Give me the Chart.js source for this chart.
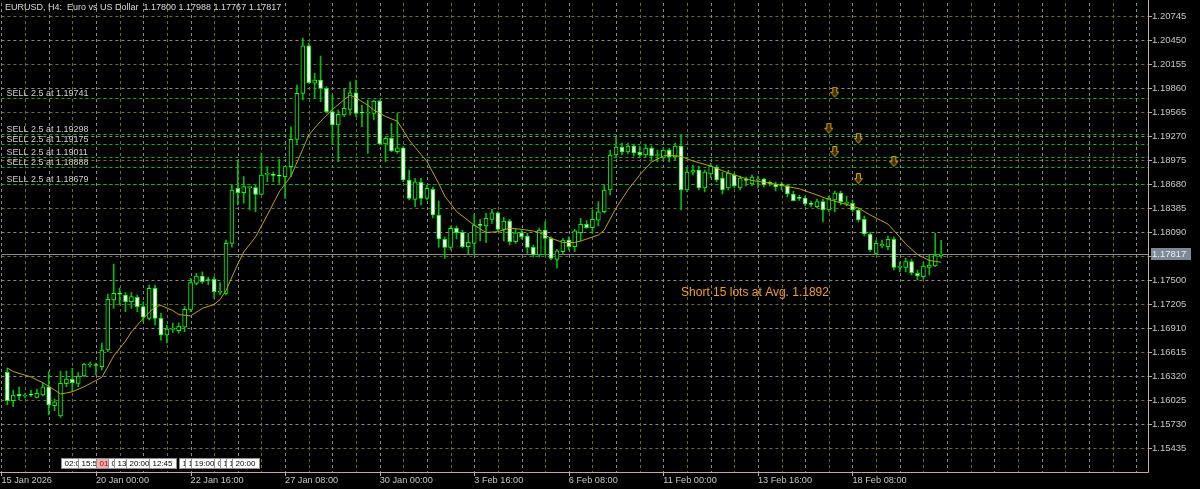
<!DOCTYPE html>
<html><head><meta charset="utf-8">
<script src="https://cdn.jsdelivr.net/npm/chart.js@4.4.1/dist/chart.umd.min.js"></script>
<style>html,body{margin:0;padding:0;background:#000;overflow:hidden}#wrap{width:1200px;height:489px;position:relative}</style>
</head><body><div id="wrap"><canvas id="c" width="1200" height="489"></canvas></div>
<script>
// ---- data (H4 candles, first candle sits at bar 1) ----
const opens=[1.16365,1.16016,1.16095,1.16074,1.16087,1.16058,1.16087,1.16188,1.15955,1.15828,1.16225,1.16279,1.16230,1.16320,1.16455,1.16455,1.16434,1.16640,1.17254,1.17328,1.17316,1.17233,1.17287,1.17172,1.17029,1.17398,1.17029,1.16824,1.16894,1.16877,1.16919,1.17131,1.17459,1.17549,1.17500,1.17509,1.17348,1.17336,1.17951,1.18627,1.18573,1.18635,1.18635,1.18553,1.18799,1.18791,1.18778,1.18770,1.18893,1.19229,1.19795,1.20377,1.19919,1.19959,1.19856,1.19569,1.19406,1.19528,1.19598,1.19802,1.19556,1.19553,1.19549,1.19700,1.19172,1.19242,1.19077,1.19126,1.18729,1.18491,1.18701,1.18504,1.18615,1.18299,1.18000,1.17901,1.18135,1.18086,1.17909,1.17951,1.18176,1.18164,1.18246,1.18327,1.18123,1.18225,1.17971,1.18081,1.18041,1.17901,1.17807,1.18114,1.18012,1.17754,1.17848,1.17992,1.17909,1.18081,1.18184,1.18143,1.18237,1.18339,1.18606,1.19037,1.19135,1.19074,1.19147,1.19074,1.19037,1.19123,1.19031,1.19000,1.19098,1.19012,1.19147,1.18606,1.18827,1.18852,1.18631,1.18803,1.18889,1.18754,1.18631,1.18791,1.18631,1.18729,1.18680,1.18729,1.18741,1.18692,1.18680,1.18668,1.18660,1.18557,1.18508,1.18508,1.18434,1.18401,1.18463,1.18360,1.18483,1.18569,1.18442,1.18442,1.18360,1.18246,1.18065,1.17828,1.17918,1.17909,1.18000,1.17656,1.17656,1.17725,1.17582,1.17541,1.17656,1.17672,1.17800];
const highs=[1.16418,1.16148,1.16185,1.16111,1.16148,1.16160,1.16238,1.16373,1.16037,1.16381,1.16381,1.16415,1.16361,1.16476,1.16492,1.16480,1.16726,1.17328,1.17697,1.17402,1.17344,1.17344,1.17316,1.17233,1.17439,1.17439,1.17094,1.16947,1.16971,1.16971,1.17172,1.17521,1.17582,1.17602,1.17537,1.17541,1.17467,1.17992,1.18668,1.18975,1.18770,1.18647,1.18668,1.19061,1.18893,1.18831,1.18984,1.18901,1.19384,1.19897,1.20475,1.20413,1.20041,1.20253,1.19877,1.19774,1.19590,1.19856,1.19937,1.19959,1.19651,1.19713,1.19713,1.19713,1.19261,1.19426,1.19549,1.19139,1.18852,1.18750,1.18750,1.18668,1.18643,1.18471,1.18032,1.18164,1.18164,1.18114,1.18073,1.18311,1.18246,1.18320,1.18369,1.18339,1.18271,1.18246,1.18123,1.18114,1.18073,1.17930,1.18139,1.18216,1.18032,1.17877,1.18012,1.18032,1.18123,1.18258,1.18229,1.18360,1.18463,1.18668,1.19098,1.19258,1.19184,1.19184,1.19172,1.19147,1.19172,1.19147,1.19098,1.19123,1.19123,1.19184,1.19282,1.18877,1.18914,1.18901,1.18852,1.18938,1.18914,1.18827,1.18852,1.18815,1.18778,1.18766,1.18791,1.18778,1.18754,1.18717,1.18705,1.18705,1.18680,1.18594,1.18545,1.18532,1.18471,1.18496,1.18496,1.18532,1.18594,1.18594,1.18532,1.18483,1.18385,1.18287,1.18090,1.17992,1.17992,1.18041,1.18029,1.17721,1.17770,1.17758,1.17623,1.17721,1.17807,1.18073,1.17988];
const lows=[1.15964,1.15943,1.16025,1.16050,1.16066,1.16050,1.16074,1.15841,1.15893,1.15812,1.16188,1.16127,1.16188,1.16311,1.16430,1.16332,1.16394,1.16619,1.17152,1.17193,1.17110,1.17152,1.17110,1.16987,1.17008,1.16947,1.16762,1.16726,1.16857,1.16845,1.16864,1.17110,1.17439,1.17459,1.17439,1.17275,1.17316,1.17316,1.17905,1.18422,1.18446,1.18360,1.18339,1.18545,1.18708,1.18708,1.18688,1.18504,1.18770,1.19180,1.19713,1.19919,1.19733,1.19692,1.19553,1.19172,1.18954,1.19507,1.19528,1.19507,1.19384,1.19057,1.19467,1.19159,1.18954,1.19077,1.19057,1.18708,1.18483,1.18401,1.18422,1.18483,1.18262,1.17905,1.17766,1.17869,1.18004,1.17893,1.17819,1.17807,1.17979,1.17958,1.18197,1.18106,1.17979,1.17930,1.17951,1.18004,1.17828,1.17783,1.17783,1.17807,1.17746,1.17644,1.17828,1.17869,1.17848,1.17979,1.18135,1.18073,1.18164,1.18323,1.18545,1.19000,1.19037,1.19049,1.19025,1.19000,1.19012,1.18963,1.18951,1.18976,1.18951,1.18976,1.18360,1.18582,1.18791,1.18606,1.18582,1.18754,1.18705,1.18557,1.18606,1.18631,1.18606,1.18655,1.18655,1.18631,1.18643,1.18655,1.18594,1.18606,1.18520,1.18471,1.18477,1.18410,1.18397,1.18385,1.18213,1.18336,1.18336,1.18422,1.18410,1.18336,1.18213,1.18041,1.17850,1.17807,1.17893,1.17869,1.17623,1.17599,1.17599,1.17562,1.17500,1.17512,1.17562,1.17664,1.17767];
const closes=[1.16016,1.16087,1.16074,1.16087,1.16085,1.16107,1.16188,1.15964,1.16004,1.16230,1.16283,1.16238,1.16320,1.16467,1.16467,1.16449,1.16640,1.17263,1.17336,1.17325,1.17233,1.17295,1.17172,1.17042,1.17398,1.17029,1.16824,1.16898,1.16898,1.16935,1.17140,1.17467,1.17549,1.17480,1.17494,1.17356,1.17352,1.17951,1.18606,1.18573,1.18647,1.18637,1.18553,1.18791,1.18803,1.18787,1.18776,1.18893,1.19229,1.19795,1.20377,1.19925,1.19959,1.19856,1.19569,1.19406,1.19537,1.19610,1.19802,1.19549,1.19553,1.19554,1.19700,1.19172,1.19242,1.19086,1.19126,1.18729,1.18504,1.18708,1.18504,1.18627,1.18299,1.18004,1.17901,1.18135,1.18081,1.17909,1.17963,1.18176,1.18172,1.18259,1.18327,1.18123,1.18225,1.17971,1.18081,1.18032,1.17901,1.17807,1.18114,1.18012,1.17766,1.17860,1.17992,1.17909,1.18106,1.18184,1.18143,1.18246,1.18339,1.18606,1.19037,1.19135,1.19074,1.19147,1.19061,1.19037,1.19123,1.19025,1.19037,1.19098,1.19012,1.19147,1.18606,1.18827,1.18852,1.18631,1.18827,1.18901,1.18729,1.18606,1.18815,1.18655,1.18754,1.18725,1.18766,1.18741,1.18668,1.18688,1.18643,1.18664,1.18557,1.18475,1.18504,1.18434,1.18430,1.18463,1.18360,1.18508,1.18569,1.18463,1.18446,1.18360,1.18238,1.18065,1.17869,1.17951,1.17939,1.18000,1.17656,1.17660,1.17725,1.17590,1.17549,1.17672,1.17684,1.17800,1.17817];
// moving average (candle index, value)
const maIdx=[0,1,4,6,8,9,10,11,13,16,18,20,21,23,25,26,28,29,31,33,35,36,37,39,40,42,44,46,48,50,51,53,55,57,58,59,61,62,64,66,68,69,71,73,74,76,79,81,83,85,87,89,90,92,94,96,97,100,101,103,105,107,109,111,112,114,116,119,122,126,129,131,134,137,139,142,144,146,147,149,151,152,154,156,158];
const maVal=[1.16418,1.16375,1.16308,1.16238,1.16148,1.16099,1.16111,1.16127,1.16188,1.16304,1.16566,1.16750,1.16861,1.17029,1.17172,1.17187,1.17125,1.17076,1.17058,1.17152,1.17199,1.17260,1.17371,1.17697,1.17844,1.18029,1.18299,1.18582,1.18778,1.19110,1.19282,1.19451,1.19596,1.19717,1.19774,1.19737,1.19649,1.19590,1.19510,1.19452,1.19221,1.19129,1.18957,1.18686,1.18533,1.18342,1.18174,1.18084,1.18094,1.18137,1.18123,1.18102,1.18084,1.18013,1.17961,1.17961,1.17979,1.18053,1.18114,1.18385,1.18606,1.18791,1.18951,1.19024,1.19037,1.19018,1.18963,1.18901,1.18815,1.18723,1.18692,1.18662,1.18621,1.18545,1.18489,1.18428,1.18385,1.18299,1.18262,1.18188,1.18029,1.17943,1.17813,1.17740,1.17718];
const xTickIdx=[0,16,32,48,64,80,96,112,128,144];
const xTickText=['15 Jan 2026','20 Jan 00:00','22 Jan 16:00','27 Jan 08:00','30 Jan 00:00','3 Feb 16:00','6 Feb 08:00','11 Feb 00:00','13 Feb 16:00','18 Feb 08:00'];
const yTicks=[1.15435,1.15730,1.16025,1.16320,1.16615,1.16910,1.17205,1.17500,1.17795,1.18090,1.18385,1.18680,1.18975,1.19270,1.19565,1.19860,1.20155,1.20450,1.20745];
const sellPrices=[1.19741,1.19298,1.19175,1.19011,1.18888,1.18679];
const sellBars=[141,140,145,141,151,145];
const sellLots=[2.5,2.5,2.5,2.5,2.5,2.5];
const lastPrice=1.17817;
const headerText='EURUSD, H4:  Euro vs US Dollar  1.17800 1.17988 1.17767 1.17817';
const avgText='Short 15 lots at Avg. 1.1892';
const avgBar=115, avgLevel=1.17340;
const timeBoxBars=[10,13,16,18,19,21,25,30,31,32,36,37,38,39];
const timeBoxText=['02:00','15:55','01:00','04:00','13:00','20:00','12:45','11:00','11:00','19:00','07:00','10:00','11:00','20:00'];
const timeBoxHot=[false,false,true,false,false,false,false,false,false,false,false,false,false,false];
const totalBars=194, yMin=1.15140, yMax=1.20905;

const FONT='"Liberation Sans", Arial, sans-serif';
const bull=i=>closes[i]>=opens[i];

const arrow=document.createElement('canvas');arrow.width=9;arrow.height=22;
(function(){const g=arrow.getContext('2d');g.beginPath();g.moveTo(2.5,0.5);g.lineTo(6.5,0.5);g.lineTo(6.5,5.5);g.lineTo(8.5,5.5);g.lineTo(4.5,10.5);g.lineTo(0.5,5.5);g.lineTo(2.5,5.5);g.closePath();g.fillStyle='#3a2c00';g.fill();g.strokeStyle='#d9a300';g.lineWidth=1;g.stroke();})();

const decor={id:'decor',
 beforeDatasetsDraw(chart){
  const {ctx,chartArea:a,scales:{x,y}}=chart;
  ctx.save();ctx.lineWidth=1;
  const hl=(py,c,d)=>{ctx.strokeStyle=c;ctx.setLineDash(d);ctx.beginPath();ctx.moveTo(a.left,py);ctx.lineTo(a.right,py);ctx.stroke();};
  yTicks.forEach((v,k)=>{const py=Math.round(y.getPixelForValue(v))+0.5;hl(py,k%2===0?'#6f6f1e':'#8a8a8a',[3,3]);});
  for(let j=0;j<=totalBars;j+=4){const px=Math.round(x.getPixelForValue(j))+0.5;ctx.strokeStyle=(j/4)%2===0?'#8a8a8a':'#6f6f1e';ctx.setLineDash([3,3]);ctx.beginPath();ctx.moveTo(px,a.top);ctx.lineTo(px,a.bottom);ctx.stroke();}
  sellPrices.forEach(v=>hl(Math.round(y.getPixelForValue(v))+0.5,'#00c000',[3,3]));
  hl(Math.round(y.getPixelForValue(lastPrice))+0.5,'#8c8c8c',[]);
  ctx.restore();
 },
 afterDatasetsDraw(chart){
  const {ctx,chartArea:a,scales:{x,y}}=chart;
  ctx.save();
  ctx.strokeStyle='#c8a8a8';ctx.lineWidth=1;ctx.setLineDash([]);
  ctx.beginPath();ctx.moveTo(Math.round(a.right)+0.5,0);ctx.lineTo(Math.round(a.right)+0.5,Math.round(a.bottom)+0.5);ctx.lineTo(0,Math.round(a.bottom)+0.5);ctx.stroke();
  yTicks.forEach(v=>{const py=Math.round(y.getPixelForValue(v))+0.5;ctx.beginPath();ctx.moveTo(a.right,py);ctx.lineTo(a.right+4,py);ctx.stroke();});
  xTickIdx.forEach(v=>{const px=Math.round(x.getPixelForValue(v))+0.5;ctx.beginPath();ctx.moveTo(px,a.bottom);ctx.lineTo(px,a.bottom+4);ctx.stroke();});
  ctx.font='9px '+FONT;ctx.fillStyle='#d0d0d0';ctx.textBaseline='alphabetic';ctx.textAlign='left';
  sellPrices.forEach((v,k)=>ctx.fillText('SELL '+sellLots[k]+' at '+v.toFixed(5),a.left+5,y.getPixelForValue(v)-2));
  ctx.fillStyle='#dcdcdc';ctx.textBaseline='top';ctx.fillText(headerText,5,3);
  ctx.font='12px '+FONT;ctx.fillStyle='#f0a020';ctx.textBaseline='middle';
  ctx.fillText(avgText,x.getPixelForValue(avgBar),y.getPixelForValue(avgLevel));
  ctx.font='8px '+FONT;ctx.textBaseline='middle';
  timeBoxBars.forEach((b,k)=>{const bx=Math.round(x.getPixelForValue(b))+0.5;const w=Math.ceil(ctx.measureText(timeBoxText[k]).width)+6;
   ctx.fillStyle=timeBoxHot[k]?'#f2b0b0':'#ffffff';ctx.fillRect(bx,458.5,w,10);ctx.strokeStyle='#909090';ctx.strokeRect(bx,458.5,w,10);
   ctx.fillStyle=timeBoxHot[k]?'#900000':'#000000';ctx.fillText(timeBoxText[k],bx+3,464);});
  const py=y.getPixelForValue(lastPrice);
  ctx.fillStyle='#7c8996';ctx.fillRect(a.right+3,Math.round(py)-6,40,12);
  ctx.font='9.5px '+FONT;ctx.fillStyle='#eeeeee';ctx.textBaseline='middle';ctx.fillText(lastPrice.toFixed(5),a.right+4,py);
  ctx.restore();
 }};

const wickData=opens.map((o,i)=>({x:i+1,y:[lows[i],highs[i]]}));
const bodyData=opens.map((o,i)=>({x:i+1,y:[o,closes[i]]}));
const maData=maIdx.map((i,k)=>({x:i+1,y:maVal[k]}));
const arrowData=sellBars.map((b,k)=>({x:b,y:sellPrices[k]}));

new Chart(document.getElementById('c'),{
 type:'bar',
 data:{datasets:[
  {type:'line',data:arrowData,showLine:false,pointStyle:arrow,pointRadius:5,order:0},
  {type:'line',data:maData,borderColor:'#c0a400',borderWidth:1,pointRadius:0,tension:0,spanGaps:true,order:1},
  {data:bodyData,backgroundColor:c=>bull(c.dataIndex)?'#000000':'#ffffff',borderColor:'#00ff00',borderWidth:1,borderSkipped:false,barThickness:4,minBarLength:1,grouped:false,order:2},
  {data:wickData,backgroundColor:'#00c000',borderWidth:0,barThickness:1,grouped:false,order:3}
 ]},
 options:{responsive:false,animation:false,devicePixelRatio:1,
  layout:{autoPadding:false,padding:{left:1.4,top:3,right:0,bottom:0}},
  plugins:{legend:{display:false},tooltip:{enabled:false}},
  scales:{
   x:{type:'linear',min:0,max:totalBars,offset:false,grid:{display:false,drawTicks:false},border:{display:false},
      afterBuildTicks:s=>{s.ticks=xTickIdx.map(v=>({value:v}));},
      afterFit:s=>{s.height=17;s.paddingLeft=0;s.paddingRight=0;},
      ticks:{autoSkip:false,maxRotation:0,align:'start',padding:3,color:'#c8c8c8',font:{family:FONT,size:9.2},callback:v=>{const k=xTickIdx.indexOf(v);return k<0?'':xTickText[k];}}},
   y:{type:'linear',position:'right',min:yMin,max:yMax,beginAtZero:false,grid:{display:false,drawTicks:false},border:{display:false},
      afterBuildTicks:s=>{s.ticks=yTicks.map(v=>({value:v}));},
      afterFit:s=>{s.width=52;s.paddingTop=0;s.paddingBottom=0;},
      ticks:{padding:4,color:'#c8c8c8',font:{family:FONT,size:9.5},callback:v=>v.toFixed(5)}}
  }},
 plugins:[decor]
});
</script></body></html>
